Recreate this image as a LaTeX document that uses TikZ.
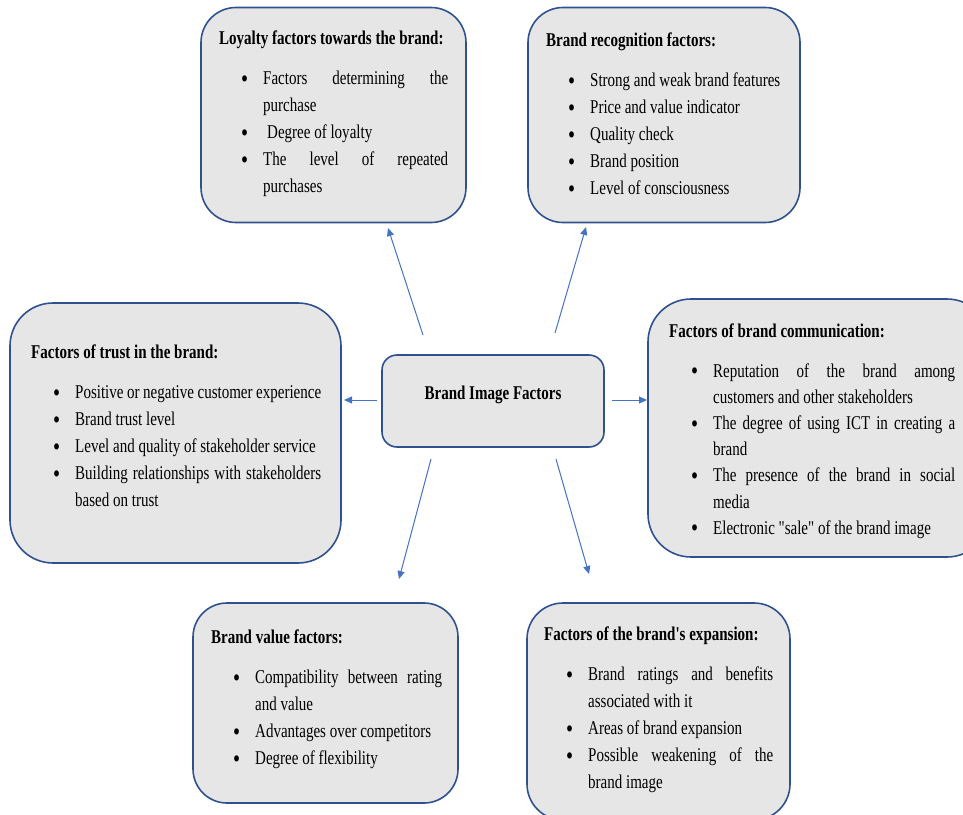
\documentclass[tikz,border=0pt]{standalone}
\usepackage{fontspec}
\setmainfont[FakeStretch=0.77,Ligatures=TeXOff]{Liberation Serif}
\usetikzlibrary{arrows.meta}
\definecolor{boxfill}{HTML}{E7E6E6}
\definecolor{boxline}{HTML}{2F528F}
\definecolor{arrowcol}{HTML}{4472C4}
\newcommand\bitem[1]{\par\hangindent=44pt\hangafter=1\noindent\makebox[44pt][l]{\hspace{22pt}\raisebox{-2.5pt}{\fontsize{26}{26}\selectfont\textbullet}}#1}
\newcommand\btitle[1]{\noindent\textbf{#1}\par\vskip 13pt}
\begin{document}
\begin{tikzpicture}[x=1pt,y=-1pt,
  factorbox/.style={draw=boxline, line width=1.6pt, fill=boxfill, inner sep=0pt},
  boxtext/.style={anchor=north west, inner sep=0pt, align=justify,
    font=\fontsize{19.5}{27}\selectfont},
  conn/.style={draw=arrowcol, line width=1pt, -{Triangle[length=8pt,width=7pt]}}]
\useasboundingbox (0,0) rectangle (963,814);
\clip (0,0) rectangle (963,814);
% boxes
\node[factorbox, rounded corners=35pt, minimum width=265pt, minimum height=215pt] (loy) at (333.5,115) {};
\node[factorbox, rounded corners=35pt, minimum width=272pt, minimum height=215pt] (rec) at (664,115) {};
\node[factorbox, rounded corners=43pt, minimum width=331pt, minimum height=260pt] (tru) at (175.5,433) {};
\node[factorbox, rounded corners=15pt, minimum width=222pt, minimum height=92pt] (cen) at (493,401) {};
\node[factorbox, rounded corners=43pt, minimum width=342pt, minimum height=258pt] (com) at (819,428) {};
\node[factorbox, rounded corners=34pt, minimum width=265pt, minimum height=200pt] (val) at (325.5,703) {};
\node[factorbox, rounded corners=36pt, minimum width=263pt, minimum height=217pt] (exp) at (658.5,711.5) {};
% texts
\node[boxtext, text width=229pt] (loyt) at (219,31) {%
\btitle{Loyalty factors towards the brand:}
\bitem{Factors~determining~the\break purchase}
\bitem{\hspace{4pt}Degree~of~loyalty}
\bitem{The~level~of~repeated\break purchases}\par};
\node[boxtext, text width=236pt] (rect) at (546,33) {%
\btitle{Brand recognition factors:}
\bitem{Strong~and~weak~brand~features}
\bitem{Price~and~value~indicator}
\bitem{Quality~check}
\bitem{Brand~position}
\bitem{Level~of~consciousness}\par};
\node[boxtext, text width=290pt] (trut) at (31,345) {%
\btitle{Factors of trust in the brand:}
\bitem{Positive~or~negative~customer~experience}
\bitem{Brand~trust~level}
\bitem{Level~and~quality~of~stakeholder~service}
\bitem{Building~relationships~with~stakeholders\break based~on~trust}\par};
\node[boxtext, text width=286pt, font=\fontsize{19.5}{26.2}\selectfont] (comt) at (669,324) {%
\btitle{Factors of brand communication:}
\bitem{Reputation~of~the~brand~among\break customers~and~other~stakeholders}
\bitem{The~degree~of~using~ICT~in~creating~a\break brand}
\bitem{The~presence~of~the~brand~in~social\break media}
\bitem{Electronic~"sale"~of~the~brand~image}\par};
\node[boxtext, text width=231pt] (valt) at (211,630) {%
\btitle{Brand value factors:}
\bitem{Compatibility~between~rating\break and~value}
\bitem{Advantages~over~competitors}
\bitem{Degree~of~flexibility}\par};
\node[boxtext, text width=229pt] (expt) at (544,627) {%
\btitle{Factors of the brand's expansion:}
\bitem{Brand~ratings~and~benefits\break associated~with~it}
\bitem{Areas~of~brand~expansion}
\bitem{Possible~weakening~of~the\break brand~image}\par};
\node[inner sep=0pt, font=\fontsize{19.5}{27}\selectfont\bfseries] (cent) at (493,395) {Brand Image Factors};
% connectors
\coordinate (a1s) at (423,335); \coordinate (a1e) at (388,228);
\coordinate (a2s) at (555,333); \coordinate (a2e) at (586,227);
\coordinate (a3s) at (377,400); \coordinate (a3e) at (344,400);
\coordinate (a4s) at (612,400); \coordinate (a4e) at (647,400);
\coordinate (a5s) at (431,459); \coordinate (a5e) at (399,579);
\coordinate (a6s) at (556,459); \coordinate (a6e) at (589,574);
\draw[conn] (a1s) -- (a1e);
\draw[conn] (a2s) -- (a2e);
\draw[conn] (a3s) -- (a3e);
\draw[conn] (a4s) -- (a4e);
\draw[conn] (a5s) -- (a5e);
\draw[conn] (a6s) -- (a6e);
\end{tikzpicture}
\end{document}
